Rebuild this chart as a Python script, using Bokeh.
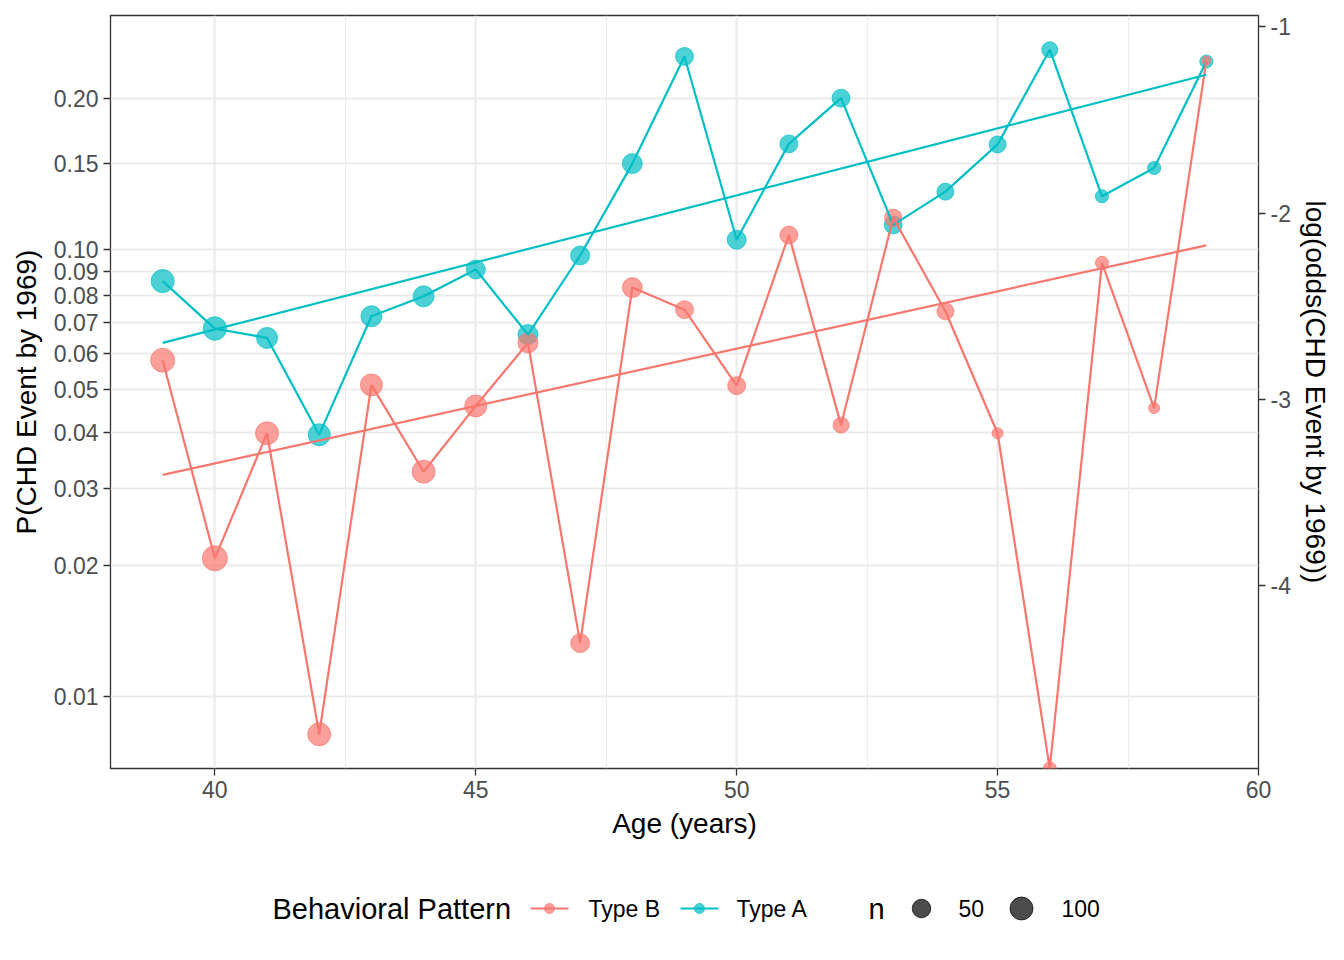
import numpy as np
from bokeh.plotting import figure
from bokeh.models import Range1d, FixedTicker, LinearAxis
from bokeh.layouts import column
from bokeh.embed import file_html
from bokeh.resources import INLINE
from bokeh.core.properties import value

# ---------------- data ----------------
ages = list(range(39, 60))

# Observed proportion of CHD events by 1969, per age, per behavioural pattern
p_type_a = [0.0859, 0.0679, 0.0648, 0.0396, 0.0722, 0.0797, 0.0909, 0.0659, 0.0973, 0.150,
            0.2387, 0.105, 0.164, 0.2004, 0.1127, 0.1318, 0.1636, 0.2453, 0.129, 0.147, 0.2338]
p_type_b = [0.0579, 0.0208, 0.0399, 0.0082, 0.0511, 0.0327, 0.0459, 0.0632, 0.0133, 0.0832,
            0.0746, 0.0509, 0.1074, 0.0416, 0.1166, 0.0740, 0.0399, 0.0, 0.0939, 0.0454, 0.2346]

# Number of men per age and pattern (point size)
n_type_a = [100, 105, 75, 87, 75, 75, 54, 64, 55, 64, 45, 54, 45, 45, 45, 37, 37, 30, 15, 15, 15]
n_type_b = [113, 128, 100, 100, 87, 100, 87, 64, 54, 64, 45, 45, 45, 30, 40, 37, 9, 15, 15, 9, 7]

# Fitted logistic-regression lines (log-odds at first and last age)
fit_ages = [39, 59]
fit_logodds_a = [-2.696, -1.258]
fit_logodds_b = [-3.404, -2.173]

p_ticks = [0.01, 0.02, 0.03, 0.04, 0.05, 0.06, 0.07, 0.08, 0.09, 0.10, 0.15, 0.20]
p_tick_labels = ["0.01", "0.02", "0.03", "0.04", "0.05", "0.06", "0.07", "0.08", "0.09",
                 "0.10", "0.15", "0.20"]
logodds_ticks = [-1, -2, -3, -4]
logodds_tick_labels = ["-1", "-2", "-3", "-4"]
x_ticks = [40, 45, 50, 55, 60]
x_minor_ticks = [42.5, 47.5, 52.5, 57.5]
size_breaks = [50, 100]
size_break_labels = ["50", "100"]

group_names = ["Type B", "Type A"]
group_colors = ["#F8766D", "#00BFC4"]

FONT = "Liberation Sans"


def logit(p):
    p = np.asarray(p, dtype=float)
    with np.errstate(divide="ignore"):
        return np.log(p / (1.0 - p))


la = logit(p_type_a)
lb = logit(p_type_b)
finite_vals = np.concatenate([la[np.isfinite(la)], lb[np.isfinite(lb)],
                              fit_logodds_a, fit_logodds_b])
lo, hi = finite_vals.min(), finite_vals.max()
pad = 0.05 * (hi - lo)
y0, y1 = lo - pad, hi + pad
# -Inf (zero events) is drawn at the panel edge, as ggplot does
la_plot = np.where(np.isfinite(la), la, y0)
lb_plot = np.where(np.isfinite(lb), lb, y0)

xlo, xhi = min(ages), max(ages)
xpad = 0.05 * (xhi - xlo)

n_all = n_type_a + n_type_b
nmin, nmax = min(n_all), max(n_all)


def diam(n):
    n = np.asarray(n, dtype=float)
    return 9.0 + 16.0 * np.sqrt(np.clip((n - nmin) / (nmax - nmin), 0, 1))


BORDER_L, FRAME_W, BORDER_R = 110, 1148, 80

# ---------------- main figure ----------------
p = figure(frame_width=FRAME_W, frame_height=753,
           x_range=Range1d(xlo - xpad, xhi + xpad), y_range=Range1d(y0, y1),
           output_backend="svg", toolbar_location=None,
           min_border_left=BORDER_L, min_border_right=BORDER_R, min_border_top=15,
           min_border_bottom=85,
           x_axis_label="Age (years)", y_axis_label="P(CHD Event by 1969)")
p.background_fill_color = "white"
p.border_fill_color = "white"
p.outline_line_color = "#333333"
p.outline_line_width = 1.3

tick_vals = [round(float(v), 8) for v in logit(p_ticks)]
p.yaxis[0].ticker = FixedTicker(ticks=tick_vals)
p.yaxis[0].major_label_overrides = {v: lab for v, lab in zip(tick_vals, p_tick_labels)}
p.xaxis[0].ticker = FixedTicker(ticks=x_ticks, minor_ticks=x_minor_ticks)

right_axis = LinearAxis(ticker=FixedTicker(ticks=logodds_ticks),
                        axis_label="log(odds(CHD Event by 1969))")
right_axis.major_label_overrides = {float(v): lab for v, lab in zip(logodds_ticks, logodds_tick_labels)}
p.add_layout(right_axis, "right")

for ax in [p.xaxis[0], p.yaxis[0], right_axis]:
    ax.axis_line_color = None
    ax.major_tick_line_color = "#333333"
    ax.major_tick_line_width = 1.3
    ax.major_tick_out = 7
    ax.major_tick_in = 0
    ax.minor_tick_line_color = None
    ax.major_label_text_font = FONT
    ax.major_label_text_font_size = "23px"
    ax.major_label_text_color = "#4D4D4D"
    ax.major_label_standoff = 5
    ax.axis_label_text_font = FONT
    ax.axis_label_text_font_size = "28px"
    ax.axis_label_text_font_style = "normal"
    ax.axis_label_text_color = "black"
p.yaxis[0].axis_label_standoff = 9
p.xaxis[0].axis_label_standoff = 7
right_axis.axis_label_standoff = 6

p.xgrid.grid_line_color = "#EBEBEB"
p.xgrid.grid_line_width = 2.2
p.xgrid.minor_grid_line_color = "#EBEBEB"
p.xgrid.minor_grid_line_width = 1.1
p.ygrid.grid_line_color = "#EBEBEB"
p.ygrid.grid_line_width = 2.2
p.ygrid.minor_grid_line_color = None

col_b, col_a = group_colors[0], group_colors[1]

p.scatter(ages, la_plot, size=diam(n_type_a), fill_color=col_a, fill_alpha=0.7,
          line_color=col_a, line_alpha=0.7, line_width=1)
p.scatter(ages, lb_plot, size=diam(n_type_b), fill_color=col_b, fill_alpha=0.7,
          line_color=col_b, line_alpha=0.7, line_width=1)
p.line(ages, la_plot, line_color=col_a, line_width=2.2)
p.line(ages, lb_plot, line_color=col_b, line_width=2.2)
p.line(fit_ages, fit_logodds_a, line_color=col_a, line_width=2.2)
p.line(fit_ages, fit_logodds_b, line_color=col_b, line_width=2.2)

# ---------------- legend strip (x measured from the panel's left edge) ----------------
LH = 95
leg = figure(frame_width=FRAME_W, frame_height=LH, x_range=Range1d(0, FRAME_W),
             y_range=Range1d(LH, 0), output_backend="svg", toolbar_location=None,
             min_border_left=BORDER_L, min_border_right=BORDER_R, min_border_top=0,
             min_border_bottom=0, x_axis_location=None, y_axis_location=None)
leg.outline_line_color = None
leg.xgrid.grid_line_color = None
leg.ygrid.grid_line_color = None
cy = 55

leg.text(x=[162], y=[cy], text=["Behavioral Pattern"], text_font=value(FONT),
         text_font_size=value("29px"), text_baseline="middle", text_align="left", text_color="black")
key_x = [420, 570]
lab_x = [478, 626]
for kx, lx, name, c in zip(key_x, lab_x, group_names, group_colors):
    leg.line([kx, kx + 38], [cy, cy], line_color=c, line_width=2.2)
    leg.scatter([kx + 19], [cy], size=10, fill_color=c, fill_alpha=0.7, line_color=c,
                line_alpha=0.7, line_width=1)
    leg.text(x=[lx], y=[cy], text=[name], text_font=value(FONT), text_font_size=value("23px"),
             text_baseline="middle", text_align="left", text_color="black")

leg.text(x=[758], y=[cy], text=["n"], text_font=value(FONT), text_font_size=value("29px"),
         text_baseline="middle", text_align="left", text_color="black")
for kx, lx, nb, lab in zip([811, 911], [848, 951], size_breaks, size_break_labels):
    leg.scatter([kx], [cy], size=float(diam([nb])[0]), fill_color="black", fill_alpha=0.7,
                line_color="black", line_alpha=0.7, line_width=1)
    leg.text(x=[lx], y=[cy], text=[lab], text_font=value(FONT), text_font_size=value("23px"),
             text_baseline="middle", text_align="left", text_color="black")

layout = column(p, leg, spacing=0)
open("out.html", "w").write(file_html(layout, INLINE))
